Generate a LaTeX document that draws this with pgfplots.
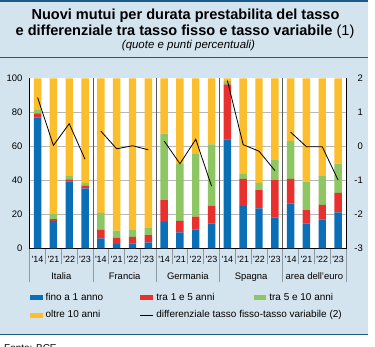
\documentclass[border=0pt]{standalone}
\usepackage{pgfplots}
\usepackage{pgfplotstable}
\pgfplotsset{compat=1.18}
\usepackage{fontspec}
\setmainfont{Liberation Sans}
\definecolor{cblue}{HTML}{0A6FB7}
\definecolor{cred}{HTML}{E8312F}
\definecolor{cgreen}{HTML}{8DC663}
\definecolor{cyellow}{HTML}{FCBE2C}
\definecolor{bgc}{HTML}{D4E4EE}
\definecolor{rulec}{HTML}{1D5A85}
\definecolor{sepc}{HTML}{8C9AA4}
\pgfplotstableread{
x blue red green yellow
0 77.0 2.5 2.0 18.5
1 16.2 1.0 3.0 79.8
2 39.4 1.2 2.4 57.0
3 35.3 1.5 1.8 61.4
4 5.9 4.9 10.1 79.1
5 2.4 3.9 4.1 89.6
6 2.9 3.9 4.4 88.8
7 3.5 4.3 4.1 88.1
8 15.6 12.8 39.2 32.4
9 9.4 6.8 33.8 50.0
10 11.2 7.4 37.3 44.1
11 14.7 10.4 36.1 38.8
12 64.1 32.5 1.8 1.6
13 24.9 16.0 3.0 56.1
14 23.5 10.8 4.3 61.4
15 18.2 22.0 12.2 47.6
16 26.5 14.4 22.4 36.7
17 14.7 7.8 16.7 60.8
18 17.1 8.5 16.9 57.5
19 21.2 11.5 17.1 50.2
}\shares
\pgfplotsset{
 mybarlegend/.style={legend image code/.code={\fill[##1] (0bp,-2.6bp) rectangle (12.7bp,2.6bp);}},
 mylinelegend/.style={legend image code/.code={\draw[##1] (0bp,0bp) -- (12.7bp,0bp);}},
}
\begin{document}
\begin{tikzpicture}
\useasboundingbox (0bp,0bp) rectangle (375bp,347bp);
\fill[bgc] (0bp,12.7bp) rectangle (368bp,345bp);
\draw[rulec, line width=2bp] (0bp,345.8bp) -- (368bp,345.8bp);
\draw[rulec, line width=1bp] (0bp,289.7bp) -- (368bp,289.7bp);
\draw[rulec, line width=1.5bp] (0bp,12.7bp) -- (368bp,12.7bp);
\node[anchor=base, inner sep=0pt, font=\fontsize{14.6}{16}\selectfont\bfseries] at (185.5bp,327bp) {Nuovi mutui per durata prestabilita del tasso};
\node[anchor=base, inner sep=0pt, font=\fontsize{14.6}{16}\selectfont] at (185bp,311bp) {\textbf{e differenziale tra tasso fisso e tasso variabile} (1)};
\node[anchor=base, inner sep=0pt, font=\fontsize{11.5}{13}\selectfont\itshape] at (188.5bp,298bp) {(quote e punti percentuali)};
\node[anchor=base west, inner sep=0pt, font=\fontsize{10}{12}\selectfont] at (4bp,-4bp) {Fonte: BCE};
\begin{axis}[
 at={(29.7bp,98.7bp)}, anchor=south west, scale only axis,
 width=316.3bp, height=169.8bp,
 xmin=-0.5, xmax=19.5, ymin=0, ymax=100,
 ybar stacked, bar width=0.47,
 axis line style={draw=none},
 axis background/.style={fill=white},
 clip=false,
 xtick={0,...,19},
 xticklabels={\textquotesingle14,\textquotesingle21,\textquotesingle22,\textquotesingle23,\textquotesingle14,\textquotesingle21,\textquotesingle22,\textquotesingle23,\textquotesingle14,\textquotesingle21,\textquotesingle22,\textquotesingle23,\textquotesingle14,\textquotesingle21,\textquotesingle22,\textquotesingle23,\textquotesingle14,\textquotesingle21,\textquotesingle22,\textquotesingle23},
 xtick style={draw=none},
 xticklabel style={anchor=base, yshift=-14.4bp, inner sep=0pt, font=\fontsize{9}{10}\selectfont},
 ytick={0,20,...,100},
 ytick style={draw=none},
 extra y ticks={20,40,60,80}, extra y tick labels={},
 extra y tick style={grid=major, major grid style={draw=black!28, line width=0.6bp}},
 yticklabel style={inner xsep=0pt, xshift=-7bp, font=\fontsize{9.5}{10}\selectfont},
 /pgf/number format/assume math mode=true,
 legend columns=3,
 legend style={draw=none, fill=none, inner sep=0pt, at={(0,-0.262)}, anchor=north west,
   row sep=8.5bp, font=\fontsize{10}{12}\selectfont,
   nodes={inner sep=0pt, text height=7.2bp, text depth=2bp},
   /tikz/every odd column/.style={column sep=3bp}},
]
\addplot[fill=cblue, draw=none, mybarlegend] table[x=x, y=blue] {\shares};
\addplot[fill=cred, draw=none, mybarlegend] table[x=x, y=red] {\shares};
\addplot[fill=cgreen, draw=none, mybarlegend] table[x=x, y=green] {\shares};
\addplot[fill=cyellow, draw=none, mybarlegend] table[x=x, y=yellow] {\shares};
\addlegendimage{black, line width=0.8bp, mylinelegend}
\legend{\makebox[94.3bp][l]{fino a 1 anno}, \makebox[97.3bp][l]{tra 1 e 5 anni}, tra 5 e 10 anni, \makebox[94.3bp][l]{oltre 10 anni}, \makebox[97.3bp][l]{differenziale tasso fisso-tasso variabile (2)}}
\draw[black, line width=0.8bp] (rel axis cs:0,1) -- (rel axis cs:0,0) -- (rel axis cs:1,0) -- (rel axis cs:1,1);
\pgfplotsinvokeforeach{3.5,7.5,11.5,15.5}{\draw[black!65, line width=0.8bp] (axis cs:#1,0) -- (axis cs:#1,100);}
\pgfplotsinvokeforeach{0.5,1.5,2.5,4.5,5.5,6.5,8.5,9.5,10.5,12.5,13.5,14.5,16.5,17.5,18.5}{\draw[sepc, line width=0.8bp] (axis cs:#1,0) -- (axis cs:#1,-9.2);}
\pgfplotsinvokeforeach{-0.5,3.5,7.5,11.5,15.5,19.5}{\draw[sepc, line width=0.8bp] (axis cs:#1,0) -- (axis cs:#1,-19.6);}
\node[anchor=base, inner sep=0pt, font=\fontsize{9.5}{11}\selectfont] at (axis cs:1.5,-18.2) {Italia};
\node[anchor=base, inner sep=0pt, font=\fontsize{9.5}{11}\selectfont] at (axis cs:5.5,-18.2) {Francia};
\node[anchor=base, inner sep=0pt, font=\fontsize{9.5}{11}\selectfont] at (axis cs:9.5,-18.2) {Germania};
\node[anchor=base, inner sep=0pt, font=\fontsize{9.5}{11}\selectfont] at (axis cs:13.5,-18.2) {Spagna};
\node[anchor=base, inner sep=0pt, font=\fontsize{9.5}{11}\selectfont] at (axis cs:17.5,-18.2) {area dell'euro};
\end{axis}
\begin{axis}[
 at={(29.7bp,98.7bp)}, anchor=south west, scale only axis,
 width=316.3bp, height=169.8bp,
 xmin=-0.5, xmax=19.5, ymin=-3, ymax=2,
 axis y line*=right, axis x line=none,
 axis line style={draw=none},
 ytick={-3,...,2}, ytick style={draw=none},
 yticklabel style={anchor=east, inner xsep=0pt, xshift=17bp, font=\fontsize{9.5}{10}\selectfont},
 /pgf/number format/assume math mode=true,
]
\addplot[black, line width=0.8bp, mark=none] coordinates {(0,1.44) (1,0.03) (2,0.67) (3,-0.38)};
\addplot[black, line width=0.8bp, mark=none] coordinates {(4,0.45) (5,-0.07) (6,0.02) (7,-0.10)};
\addplot[black, line width=0.8bp, mark=none] coordinates {(8,0.16) (9,-0.51) (10,0.21) (11,-1.17)};
\addplot[black, line width=0.8bp, mark=none] coordinates {(12,1.94) (13,0.05) (14,-0.14) (15,-0.71)};
\addplot[black, line width=0.8bp, mark=none] coordinates {(16,0.42) (17,-0.01) (18,-0.01) (19,-0.99)};
\end{axis}
\end{tikzpicture}
\end{document}
